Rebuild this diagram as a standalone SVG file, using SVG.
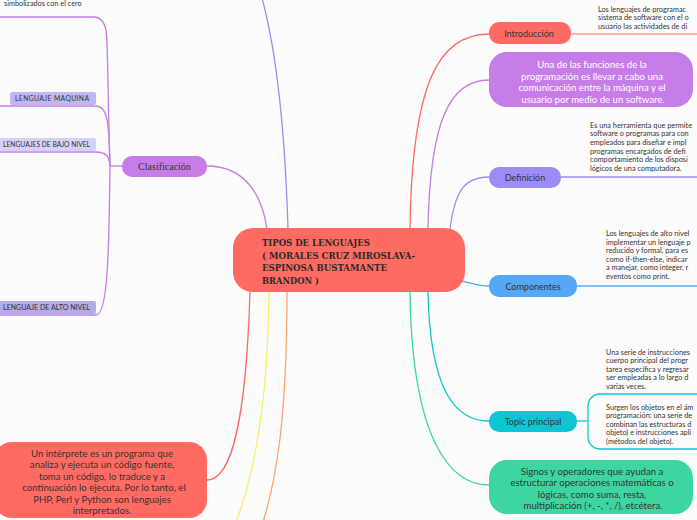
<svg xmlns="http://www.w3.org/2000/svg" width="697" height="520" viewBox="0 0 697 520">
<style>
.conn{fill:none;stroke-width:1.3}
.lbl{font-family:Lato,"Liberation Sans",sans-serif;font-size:9px;fill:#333;text-anchor:middle}
.body{font-family:Lato,"Liberation Sans",sans-serif;font-size:7.3px;fill:#333}
.big{font-family:Lato,"Liberation Sans",sans-serif;font-size:9.6px;text-anchor:middle}
.leaf{font-family:Lato,"Liberation Sans",sans-serif;font-size:6.8px;fill:#333}
.title{font-family:"DejaVu Serif",serif;font-weight:bold;font-size:10px;fill:#2a2a2a}
</style>
<rect width="697" height="520" fill="#fcfcfc"/>
<g id="connectors">
<path class="conn" stroke="#9B8DF5" d="M288 229 C285 130 276 50 262 -2"/>
<path class="conn" stroke="#C77DE8" d="M267 229 C262 195 245 166 207 166"/>
<path class="conn" stroke="#C77DE8" d="M110 166 H122"/>
<path class="conn" stroke="#C77DE8" d="M110 166 C108 110 108 40 106 30 Q103 17 94 17 H0"/>
<path class="conn" stroke="#C77DE8" d="M110 166 C109 125 108 106 96 106 H0"/>
<path class="conn" stroke="#C77DE8" d="M110 166 C110 160 108 152 96 152 H0"/>
<path class="conn" stroke="#C77DE8" d="M110 166 C109 250 108 315 96 315 H0"/>
<path class="conn" stroke="#FF6B62" d="M410 229 C412 80 440 34 489 34"/>
<path class="conn" stroke="#FF9C96" d="M571 34 H697"/>
<path class="conn" stroke="#C77DE8" d="M428 229 C430 120 450 80 489 80"/>
<path class="conn" stroke="#9B8DF5" d="M450 229 C455 190 465 177 489 177"/>
<path class="conn" stroke="#9B8DF5" d="M561 177 H697"/>
<path class="conn" stroke="#55A8F5" d="M462 281 C475 284 480 286 489 286"/>
<path class="conn" stroke="#55A8F5" d="M577 286 H697"/>
<path class="conn" stroke="#0DC6D4" d="M428 292 C430 390 455 421 489 421"/>
<path class="conn" stroke="#0DC6D4" d="M577 421 H588"/>
<rect x="588" y="394" width="200" height="55" rx="12" fill="none" stroke="#0DC6D4" stroke-width="1.3"/>
<path class="conn" stroke="#3DD6A0" d="M410 292 C412 440 450 485 489 485"/>
<path class="conn" stroke="#FF6B62" d="M250 292 C246 420 232 480 207 480"/>
<path class="conn" stroke="#F5F06A" d="M269 292 C268 400 256 470 236 522"/>
<path class="conn" stroke="#FFA56B" d="M287 292 C287 420 276 480 263 522"/>
</g>
<g id="top-text">
<text class="body" x="4" y="6">simbolizados con el cero</text>
</g>
<g id="lenguaje-maquina">
<rect x="10" y="92" width="86" height="13" rx="2" fill="#BFB7EF"/>
<text class="leaf" x="15" y="101.3" textLength="74" lengthAdjust="spacing">LENGUAJE MAQUINA</text>
</g>
<g id="lenguajes-bajo-nivel">
<rect x="-5" y="138" width="101" height="13" rx="2" fill="#D6D1F7"/>
<text class="leaf" x="3" y="147.3" textLength="87" lengthAdjust="spacingAndGlyphs">LENGUAJES DE BAJO NIVEL</text>
</g>
<g id="lenguaje-alto-nivel">
<rect x="-5" y="301" width="101" height="13" rx="2" fill="#B5ABEA"/>
<text class="leaf" x="3" y="310.3" textLength="87" lengthAdjust="spacingAndGlyphs">LENGUAJE DE ALTO NIVEL</text>
</g>
<g id="clasificacion">
<rect x="122" y="156" width="85" height="21" rx="10" fill="#C77DE8"/>
<text x="164.5" y="169.5" text-anchor="middle" font-family="'Liberation Serif',serif" font-size="10" fill="#333">Clasificación</text>
</g>
<g id="center">
<rect x="233" y="228" width="232" height="64" rx="20" fill="#FF6B62"/>
<text class="title" x="262" y="246" textLength="108" lengthAdjust="spacingAndGlyphs">TIPOS DE LENGUAJES</text>
<text class="title" x="262" y="258.5" textLength="153" lengthAdjust="spacingAndGlyphs">( MORALES CRUZ MIROSLAVA-</text>
<text class="title" x="262" y="271" textLength="125" lengthAdjust="spacingAndGlyphs">ESPINOSA BUSTAMANTE</text>
<text class="title" x="262" y="283.5" textLength="57" lengthAdjust="spacingAndGlyphs">BRANDON )</text>
</g>
<g id="introduccion">
<rect x="489" y="22" width="82" height="22" rx="10" fill="#FF6B62"/>
<text class="lbl" x="529" y="36.5">Introducción</text>
<text class="body" x="598" y="11.5">Los lenguajes de programac</text>
<text class="body" x="598" y="20">sistema de software con el o</text>
<text class="body" x="598" y="28.5">usuario las actividades de di</text>
</g>
<g id="funciones">
<rect x="489" y="52" width="204" height="55" rx="18" fill="#C77DE8"/>
<text class="big" fill="#fff" x="592" y="68">Una de las funciones de la</text>
<text class="big" fill="#fff" x="592" y="79.5">programación es llevar a cabo una</text>
<text class="big" fill="#fff" x="592" y="91">comunicación entre la máquina y el</text>
<text class="big" fill="#fff" x="593" y="102.5">usuario por medio de un software.</text>
</g>
<g id="definicion">
<rect x="489" y="167" width="72" height="21" rx="10" fill="#9B8DF5"/>
<text class="lbl" x="525" y="180.5">Definición</text>
<text class="body" x="590" y="127.5">Es una herramienta que permite</text>
<text class="body" x="590" y="136.2">software o programas para con</text>
<text class="body" x="590" y="144.9">empleados para diseñar e impl</text>
<text class="body" x="590" y="153.6">programas encargados de defi</text>
<text class="body" x="590" y="162.3">comportamiento de los disposi</text>
<text class="body" x="590" y="171">lógicos de una computadora.</text>
</g>
<g id="componentes">
<rect x="489" y="275" width="88" height="22" rx="10" fill="#55A8F5"/>
<text class="lbl" x="533" y="289.5">Componentes</text>
<text class="body" x="606" y="236">Los lenguajes de alto nivel</text>
<text class="body" x="606" y="244.6">implementar un lenguaje p</text>
<text class="body" x="606" y="253.2">reducido y formal, para es</text>
<text class="body" x="606" y="261.8">como if-then-else, indicar</text>
<text class="body" x="606" y="270.4">a manejar, como integer, r</text>
<text class="body" x="606" y="279">eventos como print.</text>
</g>
<g id="topic-principal">
<rect x="489" y="411" width="88" height="21" rx="10" fill="#0DC6D4"/>
<text class="lbl" x="533" y="424.5">Topic principal</text>
<text class="body" x="606" y="354.5">Una serie de instrucciones</text>
<text class="body" x="606" y="363.1">cuerpo principal del progr</text>
<text class="body" x="606" y="371.7">tarea específica y regresar</text>
<text class="body" x="606" y="380.3">ser empleadas a lo largo d</text>
<text class="body" x="606" y="388.9">varias veces.</text>
<text class="body" x="606" y="409.5">Surgen los objetos en el ám</text>
<text class="body" x="606" y="418.1">programación: una serie de</text>
<text class="body" x="606" y="426.7">combinan las estructuras d</text>
<text class="body" x="606" y="435.3">objeto) e instrucciones apli</text>
<text class="body" x="606" y="443.9">(métodos del objeto).</text>
</g>
<g id="signos">
<rect x="489" y="460" width="204" height="54" rx="18" fill="#3DD6A0"/>
<text class="big" fill="#333" x="592" y="474.5">Signos y operadores que ayudan a</text>
<text class="big" fill="#333" x="592" y="486">estructurar operaciones matemáticas o</text>
<text class="big" fill="#333" x="592" y="497.5">lógicas, como suma, resta,</text>
<text class="big" fill="#333" x="593" y="509">multiplicación (+, -, *, /), etcétera.</text>
</g>
<g id="interprete">
<rect x="-6" y="442" width="213" height="76" rx="18" fill="#FF6B62"/>
<text class="big" fill="#333" x="102" y="456.5">Un intérprete es un programa que</text>
<text class="big" fill="#333" x="102" y="468">analiza y ejecuta un código fuente,</text>
<text class="big" fill="#333" x="102" y="479.5">toma un código, lo traduce y a</text>
<text class="big" fill="#333" x="104" y="491">continuación lo ejecuta. Por lo tanto, el</text>
<text class="big" fill="#333" x="102" y="502.5">PHP, Perl y Python son lenguajes</text>
<text class="big" fill="#333" x="102" y="514">interpretados.</text>
</g>
</svg>
